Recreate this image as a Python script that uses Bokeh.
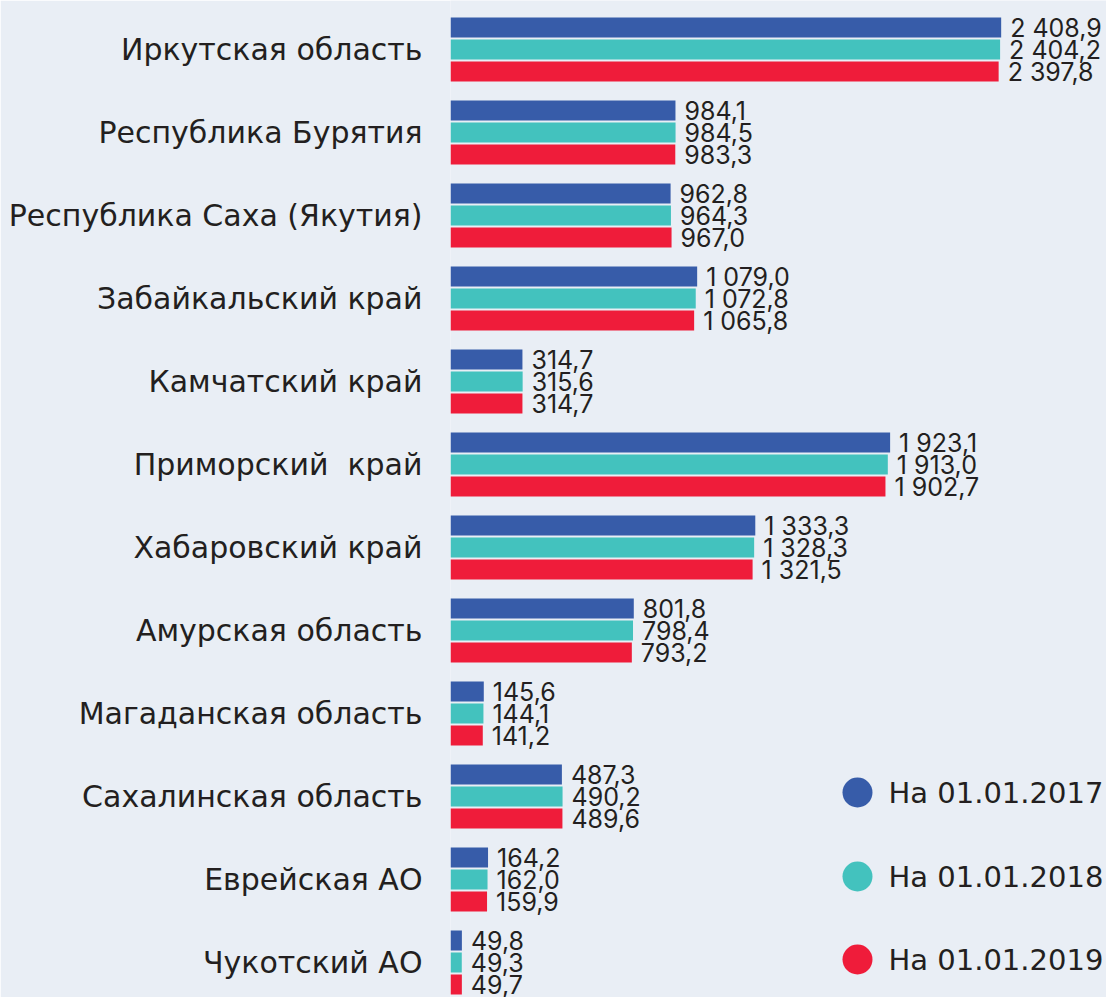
from bokeh.plotting import figure
from bokeh.models import Range1d, FixedTicker, ColumnDataSource
from bokeh.core.properties import value
from bokeh.embed import file_html
from bokeh.resources import INLINE

regions = ["Иркутская область", "Республика Бурятия", "Республика Саха (Якутия)",
           "Забайкальский край", "Камчатский край", "Приморский \u00a0край",
           "Хабаровский край", "Амурская область", "Магаданская область",
           "Сахалинская область", "Еврейская АО", "Чукотский АО"]
v2017 = [2408.9, 984.1, 962.8, 1079.0, 314.7, 1923.1, 1333.3, 801.8, 145.6, 487.3, 164.2, 49.8]
v2018 = [2404.2, 984.5, 964.3, 1072.8, 315.6, 1913.0, 1328.3, 798.4, 144.1, 490.2, 162.0, 49.3]
v2019 = [2397.8, 983.3, 967.0, 1065.8, 314.7, 1902.7, 1321.5, 793.2, 141.2, 489.6, 159.9, 49.7]
series_names = ["На 01.01.2017", "На 01.01.2018", "На 01.01.2019"]
colors = ["#375CA9", "#43C2BE", "#EF1C3A"]

BG = "#E9EEF5"
TXT = "#231F20"
FONT = "Inter"
LFONT = "DejaVu Sans"
W, H = 1106, 997
LEFT = 450          # pixel where bars start
PX_PER_UNIT = 0.2286
GROUP_PX = 83.0
FIRST_PX = 49.0

xmax = (W - LEFT) / PX_PER_UNIT
ytop = -FIRST_PX / GROUP_PX
ybot = ytop + H / GROUP_PX

def fmt(v):
    return f"{v:,.1f}".replace(",", "\u00a0").replace(".", ",")

p = figure(width=W, height=H, output_backend="svg", toolbar_location=None,
           x_range=Range1d(0, xmax), y_range=Range1d(ybot, ytop),
           x_axis_location=None, min_border_left=LEFT, min_border_right=0,
           min_border_top=0, min_border_bottom=0,
           background_fill_color=BG, border_fill_color=BG, outline_line_color=None)
p.xgrid.visible = False
p.ygrid.visible = False

off = 22.0 / GROUP_PX
bh = 20.0 / GROUP_PX
idx = list(range(len(regions)))
for k, (vals, col) in enumerate(zip([v2017, v2018, v2019], colors)):
    ys = [i + (k - 1) * off for i in idx]
    src = ColumnDataSource(dict(y=ys, v=vals, lab=[fmt(v) for v in vals]))
    p.hbar(y="y", left=0, right="v", height=bh, source=src, color=col, line_color=None)
    p.text(x="v", y="y", text="lab", source=src, x_offset=9, text_baseline="middle",
           text_align="left", text_font=value(FONT), text_font_size="25px",
           text_color=TXT)

ax = p.yaxis[0]
ax.ticker = FixedTicker(ticks=idx)
ax.major_label_overrides = {i: r for i, r in zip(idx, regions)}
ax.major_label_text_font = LFONT
ax.major_label_text_font_size = "30px"
ax.major_label_text_color = TXT
ax.major_label_standoff = 28
ax.major_tick_line_color = None
ax.minor_tick_line_color = None
ax.axis_line_color = None
ax.major_tick_out = 0
ax.major_tick_in = 0

# legend (decorative, placed in pixel terms)
leg_x = (857 - LEFT) / PX_PER_UNIT
leg_ys = [(py - FIRST_PX) / GROUP_PX for py in (792, 876, 959)]
p.scatter(x=[leg_x] * 3, y=leg_ys, size=30, color=colors, line_color=None)
p.text(x=[leg_x] * 3, y=leg_ys, text=series_names, x_offset=31, text_baseline="middle",
       text_font=value(LFONT), text_font_size="29px", text_color=TXT)

html = file_html(p, INLINE)
html = html.replace("<body>", f'<body style="margin:0;background:{BG};overflow:hidden">', 1)
open("out.html", "w").write(html)
